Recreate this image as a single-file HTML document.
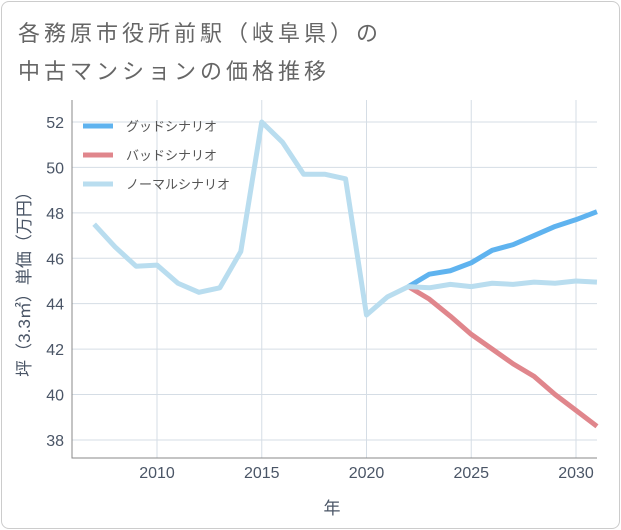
<!DOCTYPE html>
<html><head><meta charset="utf-8"><style>
body{margin:0;background:#fff;font-family:"Liberation Sans","Noto Sans CJK JP",sans-serif}
#card{position:absolute;left:1px;top:1px;width:617px;height:526px;border:1px solid #ccc;border-radius:8px;background:#fff}
</style></head><body>
<div id="card"></div>
<svg id="svg" width="621" height="530" style="position:absolute;left:0;top:0">
<text x="18" y="41" font-size="22" letter-spacing="4" fill="#666">各務原市役所前駅（岐阜県）の</text>
<text x="18" y="79" font-size="22" letter-spacing="4" fill="#666">中古マンションの価格推移</text>
<g id="grid"></g><g id="lines"></g>
<text x="332" y="514" font-size="17" fill="#4a5566" text-anchor="middle">年</text>
<text transform="translate(30,280) rotate(-90)" font-size="17" fill="#4a5566" text-anchor="middle">坪（3.3㎡）単価（万円）</text>
</svg>
<script>
const years=[2007,2008,2009,2010,2011,2012,2013,2014,2015,2016,2017,2018,2019,2020,2021,2022,2023,2024,2025,2026,2027,2028,2029,2030,2031];
const normal=[47.5,46.5,45.65,45.7,44.9,44.5,44.7,46.3,52.0,51.1,49.7,49.7,49.5,43.5,44.3,44.75,44.7,44.85,44.75,44.9,44.85,44.95,44.9,45.0,44.95];
const futureYears=[2022,2023,2024,2025,2026,2027,2028,2029,2030,2031];
const good=[44.75,45.3,45.45,45.8,46.35,46.6,47.0,47.4,47.7,48.05];
const bad=[44.75,44.2,43.45,42.65,42.0,41.35,40.8,40.0,39.3,38.6];
const yTicks=[38,40,42,44,46,48,50,52];
const xTicks=[2010,2015,2020,2025,2030];
const X0=72,X1=597,Y0=100,Y1=458;
const x=v=>157+(v-2010)*20.95;
const y=v=>122+(52-v)*22.71;
const NS="http://www.w3.org/2000/svg";
const grid=document.getElementById('grid'),lines=document.getElementById('lines');
function mk(tag,attrs,parent){const e=document.createElementNS(NS,tag);for(const k in attrs)e.setAttribute(k,attrs[k]);parent.appendChild(e);return e;}
yTicks.forEach(t=>{
 const l=mk('line',{x1:X0,x2:X1,y1:y(t),y2:y(t),stroke:'#d5dde5'},grid);
 
 
 const tx=mk('text',{x:X0-8,y:y(t)+6,'font-size':16,fill:'#4a5566','text-anchor':'end'},grid);tx.textContent=t;
 
 
});
xTicks.forEach(t=>{
 const l=mk('line',{x1:x(t),x2:x(t),y1:Y0,y2:Y1,stroke:'#d5dde5'},grid);
 
 
 const tx=mk('text',{x:x(t),y:Y1+20,'font-size':16,fill:'#4a5566','text-anchor':'middle'},grid);tx.textContent=t;
 
 
});
const ax=mk('path',{d:`M${X0} ${Y0}V${Y1}H${X1}`,stroke:'#888',fill:'none'},grid);


function series(xs,vs,color,name){
 const p=mk('polyline',{points:xs.map((v,i)=>x(v)+','+y(vs[i])).join(' '),fill:'none',stroke:color,'stroke-width':5,'stroke-linejoin':'round'},lines);
 
 
}
series(futureYears,bad,'#e0868c','bad-scenario-line');
series(futureYears,good,'#5fb3ef','good-scenario-line');
series(years,normal,'#b9ddef','normal-scenario-line');
const leg=[['グッドシナリオ','#5fb3ef'],['バッドシナリオ','#e0868c'],['ノーマルシナリオ','#b9ddef']];
leg.forEach((d,i)=>{
 const g=mk('g',{},lines);
 
 
 mk('line',{x1:83,x2:113,y1:126+i*29,y2:126+i*29,stroke:d[1],'stroke-width':5},g);
 const t=mk('text',{x:126,y:131+i*29,'font-size':13,fill:'#555'},g);t.textContent=d[0];
});
</script>
</body></html>
